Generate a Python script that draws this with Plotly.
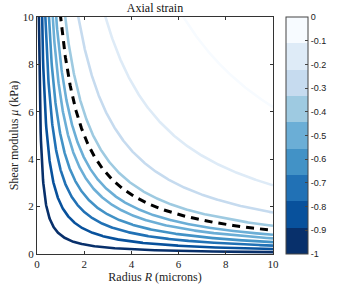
import numpy as np
import plotly.graph_objects as go

# Contour levels (axial strain) and the R*mu product each contour follows
levels = [-0.95, -0.85, -0.75, -0.65, -0.55, -0.45, -0.35, -0.25, -0.15, -0.05]
products = [0.8, 2.1, 3.55, 5.0, 6.6, 8.1, 11.9, 17.5, 29.0, 62.0]
dashed_product = 10.0

# 9-colour Blues colormap, strain -1 .. 0
cmap = ['#08306b', '#08519c', '#2171b5', '#4292c6', '#6baed6',
        '#9ecae1', '#c6dbef', '#deebf7', '#f7fbff']
cbar_ticks = [-1, -0.9, -0.8, -0.7, -0.6, -0.5, -0.4, -0.3, -0.2, -0.1, 0]
cbar_text = ['-1', '-0.9', '-0.8', '-0.7', '-0.6', '-0.5', '-0.4', '-0.3', '-0.2', '-0.1', '0']

R = np.linspace(0.005, 10, 800)

def level_color(v):
    idx = int(np.floor((v + 1) * 9))
    return cmap[min(max(idx, 0), 8)]

fig = go.Figure()
for lv, c in zip(levels, products):
    fig.add_trace(go.Scatter(x=R, y=c / R, mode='lines',
                             line=dict(color=level_color(lv), width=2.6),
                             showlegend=False, hoverinfo='skip'))

fig.add_trace(go.Scatter(x=R, y=dashed_product / R, mode='lines',
                         line=dict(color='black', width=3, dash='8px,6px'),
                         showlegend=False, hoverinfo='skip'))

cs = []
for i, col in enumerate(cmap):
    cs.append([i / 9, col])
    cs.append([(i + 1) / 9, col])

fig.add_trace(go.Scatter(x=[None, None], y=[None, None], mode='markers',
                         marker=dict(color=[-1, 0], cmin=-1, cmax=0, colorscale=cs,
                                     showscale=True,
                                     colorbar=dict(x=(286 - 37) / 236, xanchor='left', xref='paper',
                                                   y=0.5, yanchor='middle',
                                                   len=1, lenmode='fraction', thickness=22,
                                                   thicknessmode='pixels', xpad=0, ypad=0,
                                                   outlinewidth=1, outlinecolor='#444',
                                                   tickvals=cbar_ticks, ticktext=cbar_text,
                                                   ticks='inside', ticklen=3, tickcolor='#444',
                                                   tickfont=dict(family='Liberation Sans', size=9, color='#222'))),
                         showlegend=False, hoverinfo='skip'))

axis_common = dict(showgrid=False, zeroline=False, ticks='inside', ticklen=3,
                   mirror='ticks', showline=True, linecolor='#333', linewidth=1,
                   tickcolor='#333', automargin=False,
                   tickfont=dict(family='Liberation Serif', size=11, color='#222'))

fig.update_layout(
    width=339, height=284,
    margin=dict(l=37, r=66, t=17, b=30, autoexpand=False),
    paper_bgcolor='white', plot_bgcolor='white',
    title=dict(text='Axial strain', x=155 / 339, xanchor='center', y=1 - 8 / 284, yanchor='middle',
               xref='container', yref='container',
               font=dict(family='Liberation Serif', size=12, color='#111')),
    xaxis=dict(range=[0, 10], tickvals=[0, 2, 4, 6, 8, 10],
               title=dict(text='Radius <i>R</i> (microns)', standoff=2,
                          font=dict(family='Liberation Serif', size=12, color='#222')),
               **axis_common),
    yaxis=dict(range=[0, 10], tickvals=[0, 2, 4, 6, 8, 10],
               title=dict(text='Shear modulus <i>μ</i> (kPa)', standoff=1,
                          font=dict(family='Liberation Serif', size=12, color='#222')),
               **axis_common),
)

fig.write_html('out.html', config={'displayModeBar': False},
               post_script="document.body.style.margin='0';document.body.style.overflow='hidden';")
